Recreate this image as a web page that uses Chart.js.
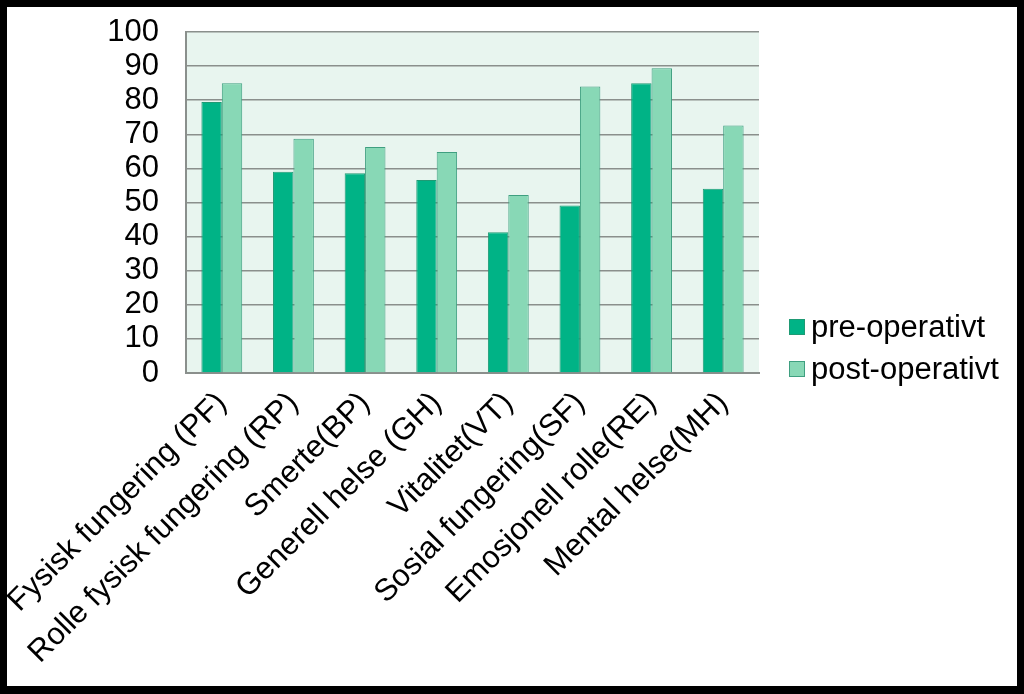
<!DOCTYPE html>
<html>
<head>
<meta charset="utf-8">
<script src="https://cdn.jsdelivr.net/npm/chart.js@4"></script>
<style>
  html, body { margin: 0; padding: 0; background: #000; }
  #wrap { position: absolute; left: 7px; top: 7px; width: 1010px; height: 679px; background: #fff; }
</style>
</head>
<body>
<div id="wrap"><canvas id="chart" width="1010" height="679"></canvas></div>
<script>
const categories = [
  "Fysisk fungering (PF)",
  "Rolle fysisk fungering (RP)",
  "Smerte(BP)",
  "Generell helse (GH)",
  "Vitalitet(VT)",
  "Sosial fungering(SF)",
  "Emosjonell rolle(RE)",
  "Mental helse(MH)"
];
const preOperativt = [79.5, 59, 58.6, 56.6, 41.3, 49.1, 85, 54];
const postOperativt = [85, 68.7, 66.3, 64.8, 52.2, 84, 89.4, 72.6];
const seriesNames = ["pre-operativt", "post-operativt"];

const FONT = "'Liberation Sans', Arial, sans-serif";
const preColor = "#00b386";
const postColor = "#88d8b6";

// plot area fill
const plotBg = {
  id: "plotBg",
  beforeDraw(chart) {
    const a = chart.chartArea;
    const ctx = chart.ctx;
    ctx.save();
    ctx.fillStyle = "#e8f5ef";
    ctx.fillRect(a.left, a.top, a.right - a.left, a.bottom - a.top);
    ctx.restore();
  }
};

// legend drawn beside the plot, lower right
const sideLegend = {
  id: "sideLegend",
  afterDraw(chart) {
    const ctx = chart.ctx;
    const x = chart.chartArea.right + 30;
    let y = 320;
    ctx.save();
    ctx.font = "31px " + FONT;
    ctx.textBaseline = "middle";
    chart.data.datasets.forEach(ds => {
      ctx.fillStyle = ds.backgroundColor;
      ctx.fillRect(x, y - 8, 16, 16);
      ctx.strokeStyle = ds.borderColor;
      ctx.lineWidth = 1;
      ctx.strokeRect(x + 0.5, y - 7.5, 15, 15);
      ctx.fillStyle = "#000";
      ctx.fillText(ds.label, x + 22, y + 1);
      y += 42;
    });
    ctx.restore();
  }
};

new Chart(document.getElementById("chart"), {
  type: "bar",
  data: {
    labels: categories,
    datasets: [
      {
        label: seriesNames[0],
        data: preOperativt,
        backgroundColor: preColor,
        borderColor: "#1f9a74",
        borderWidth: 1
      },
      {
        label: seriesNames[1],
        data: postOperativt,
        backgroundColor: postColor,
        borderColor: "#3f9f80",
        borderWidth: 1
      }
    ]
  },
  options: {
    responsive: false,
    animation: false,
    categoryPercentage: 0.57,
    barPercentage: 1,
    layout: { padding: { top: 25, right: 258, left: 0, bottom: 0 } },
    plugins: {
      legend: { display: false },
      tooltip: { enabled: false }
    },
    scales: {
      x: {
        afterFit(scale) {
          scale.height = 313;
          scale.paddingLeft = 0;
          scale.paddingRight = 0;
        },
        grid: { display: false, drawTicks: false },
        border: { color: "#8a8f8c", width: 2 },
        ticks: {
          color: "#000",
          font: { family: FONT, size: 31 },
          minRotation: 45,
          maxRotation: 45,
          padding: 12,
          autoSkip: false
        }
      },
      y: {
        min: 0,
        max: 100,
        afterFit(scale) {
          scale.width = 179;
          scale.paddingTop = 0;
          scale.paddingBottom = 0;
        },
        grid: { color: "#8a8f8c", lineWidth: 1.5, drawTicks: false },
        border: { color: "#8a8f8c", width: 2 },
        ticks: {
          stepSize: 10,
          autoSkip: false,
          color: "#000",
          font: { family: FONT, size: 31 },
          padding: 27
        }
      }
    }
  },
  plugins: [plotBg, sideLegend]
});
</script>
</body>
</html>
